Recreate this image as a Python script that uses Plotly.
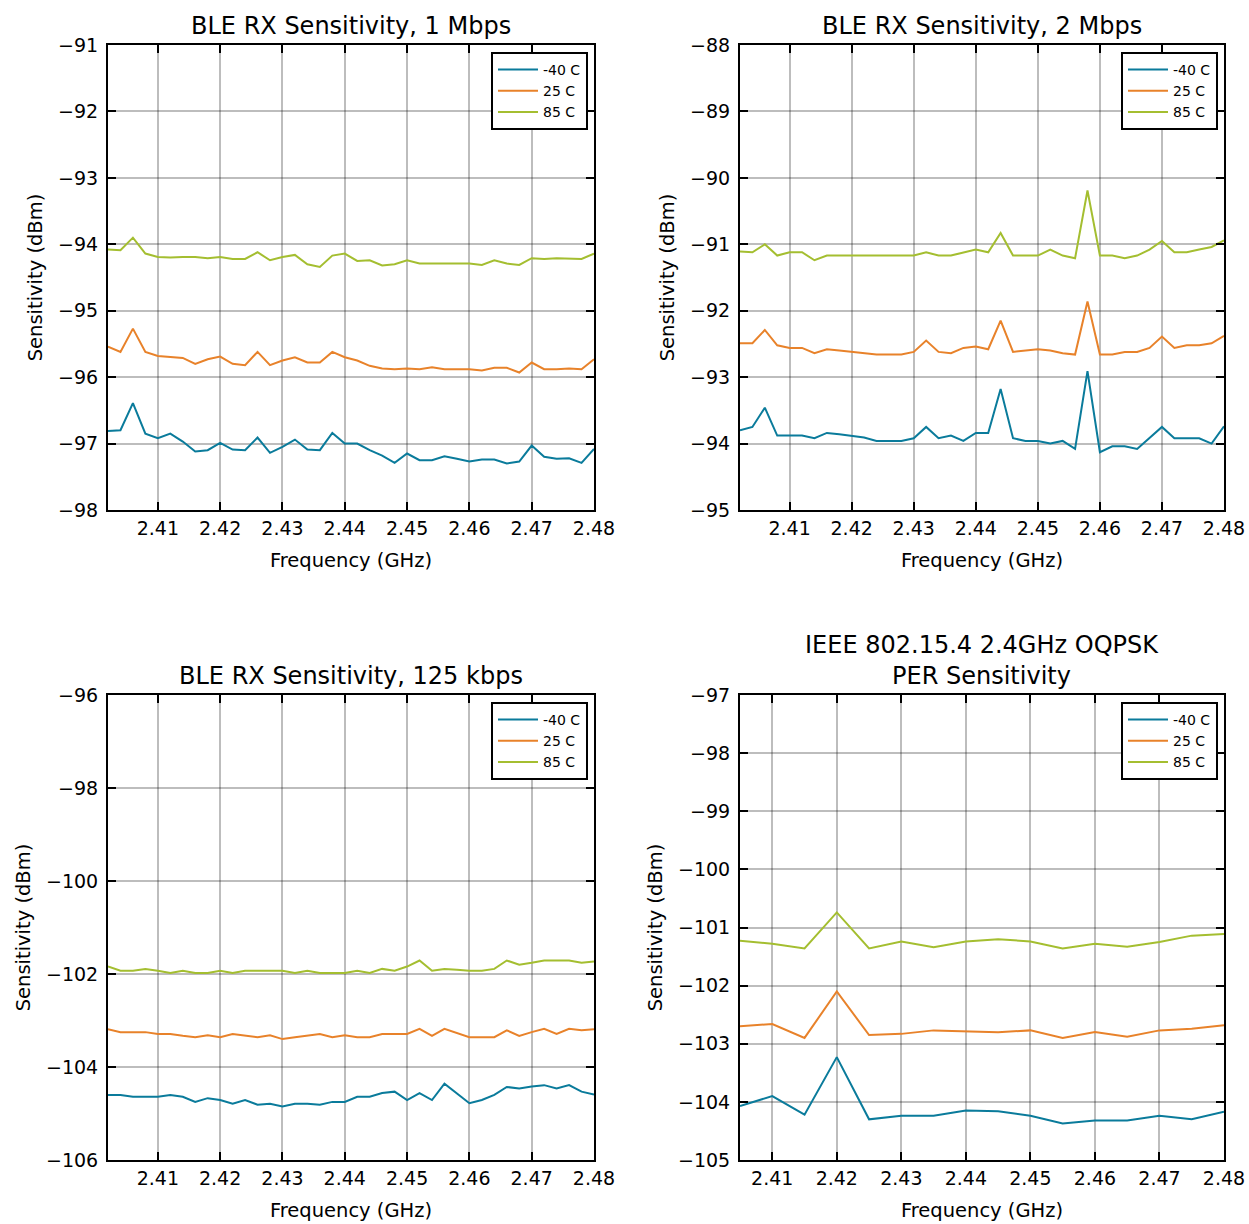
import numpy as np
import plotly.graph_objects as go

# ---------------- data ----------------
freq_ble = [round(2.402 + 0.002 * i, 3) for i in range(40)]
freq_154 = [round(2.405 + 0.005 * i, 3) for i in range(16)]

ble1m_m40 = [-96.81, -96.80, -96.39, -96.85, -96.92, -96.85, -96.97, -97.12, -97.10, -96.99,
             -97.09, -97.10, -96.91, -97.14, -97.05, -96.94, -97.09, -97.10, -96.84, -97.00,
             -97.00, -97.10, -97.18, -97.29, -97.15, -97.25, -97.25, -97.19, -97.23, -97.27,
             -97.24, -97.24, -97.30, -97.27, -97.03, -97.20, -97.23, -97.22, -97.29, -97.08]
ble1m_25 = [-95.54, -95.62, -95.27, -95.62, -95.68, -95.70, -95.71, -95.80, -95.73, -95.69,
            -95.80, -95.82, -95.62, -95.82, -95.75, -95.70, -95.78, -95.78, -95.62, -95.70,
            -95.75, -95.83, -95.87, -95.88, -95.87, -95.88, -95.85, -95.88, -95.88, -95.88,
            -95.90, -95.86, -95.86, -95.93, -95.78, -95.88, -95.88, -95.87, -95.88, -95.73]
ble1m_85 = [-94.08, -94.09, -93.90, -94.14, -94.19, -94.20, -94.19, -94.19, -94.21, -94.19,
            -94.22, -94.22, -94.12, -94.24, -94.19, -94.16, -94.30, -94.34, -94.17, -94.14,
            -94.25, -94.24, -94.32, -94.30, -94.24, -94.29, -94.29, -94.29, -94.29, -94.29,
            -94.31, -94.24, -94.29, -94.31, -94.21, -94.22, -94.21, -94.21, -94.22, -94.14]

ble2m_m40 = [-93.80, -93.75, -93.46, -93.88, -93.88, -93.88, -93.92, -93.84, -93.86, -93.89,
             -93.91, -93.96, -93.96, -93.96, -93.92, -93.75, -93.92, -93.88, -93.96, -93.84,
             -93.84, -93.18, -93.92, -93.96, -93.96, -94.00, -93.96, -94.08, -92.91, -94.13,
             -94.04, -94.04, -94.08, -93.92, -93.75, -93.92, -93.92, -93.92, -94.00, -93.74]
ble2m_25 = [-92.49, -92.49, -92.29, -92.52, -92.56, -92.56, -92.64, -92.58, -92.60, -92.62,
            -92.64, -92.66, -92.66, -92.66, -92.62, -92.45, -92.62, -92.64, -92.56, -92.54,
            -92.58, -92.15, -92.62, -92.60, -92.58, -92.60, -92.64, -92.66, -91.86, -92.66,
            -92.66, -92.62, -92.62, -92.56, -92.39, -92.56, -92.52, -92.52, -92.49, -92.38]
ble2m_85 = [-91.11, -91.12, -91.00, -91.17, -91.12, -91.12, -91.24, -91.17, -91.17, -91.17,
            -91.17, -91.17, -91.17, -91.17, -91.17, -91.12, -91.17, -91.17, -91.12, -91.08,
            -91.12, -90.83, -91.17, -91.17, -91.17, -91.08, -91.17, -91.21, -90.19, -91.17,
            -91.17, -91.21, -91.17, -91.08, -90.95, -91.12, -91.12, -91.08, -91.04, -90.94]

ble125k_m40 = [-104.60, -104.60, -104.64, -104.64, -104.64, -104.60, -104.64, -104.75, -104.67, -104.71,
               -104.79, -104.71, -104.81, -104.79, -104.85, -104.79, -104.79, -104.81, -104.75, -104.75,
               -104.64, -104.64, -104.56, -104.53, -104.71, -104.56, -104.71, -104.36, -104.56, -104.78,
               -104.71, -104.60, -104.43, -104.46, -104.42, -104.39, -104.46, -104.39, -104.53, -104.59]
ble125k_25 = [-103.19, -103.25, -103.25, -103.25, -103.29, -103.29, -103.33, -103.36, -103.32, -103.36,
              -103.29, -103.32, -103.36, -103.32, -103.40, -103.36, -103.32, -103.29, -103.36, -103.32,
              -103.36, -103.36, -103.29, -103.29, -103.29, -103.18, -103.33, -103.18, -103.27, -103.36,
              -103.36, -103.36, -103.21, -103.33, -103.25, -103.18, -103.29, -103.18, -103.21, -103.19]
ble125k_85 = [-101.84, -101.93, -101.93, -101.89, -101.93, -101.98, -101.93, -101.98, -101.98, -101.93,
              -101.98, -101.93, -101.93, -101.93, -101.93, -101.98, -101.93, -101.98, -101.98, -101.98,
              -101.93, -101.98, -101.89, -101.93, -101.84, -101.71, -101.93, -101.89, -101.91, -101.93,
              -101.93, -101.89, -101.71, -101.80, -101.76, -101.71, -101.71, -101.71, -101.76, -101.73]

ieee_m40 = [-104.07, -103.90, -104.22, -103.23, -104.30, -104.24, -104.24, -104.15,
            -104.16, -104.24, -104.37, -104.32, -104.32, -104.24, -104.30, -104.17]
ieee_25 = [-102.70, -102.66, -102.90, -102.10, -102.85, -102.83, -102.77, -102.78,
           -102.80, -102.77, -102.90, -102.80, -102.88, -102.77, -102.74, -102.68]
ieee_85 = [-101.23, -101.28, -101.36, -100.74, -101.36, -101.24, -101.34, -101.24,
           -101.20, -101.24, -101.36, -101.28, -101.33, -101.25, -101.14, -101.11]

series_names = ["-40 C", "25 C", "85 C"]
colors = ["#0A7B9B", "#E8822A", "#A4BE30"]

titles = ["BLE RX Sensitivity, 1 Mbps", "BLE RX Sensitivity, 2 Mbps",
          "BLE RX Sensitivity, 125 kbps", "IEEE 802.15.4 2.4GHz OQPSK<br>PER Sensitivity"]
xranges = [[2.402, 2.48], [2.402, 2.48], [2.402, 2.48], [2.405, 2.48]]
yranges = [[-98, -91], [-95, -88], [-106, -96], [-105, -97]]
ydticks = [1, 1, 2, 1]

panels = [
    (freq_ble, [ble1m_m40, ble1m_25, ble1m_85]),
    (freq_ble, [ble2m_m40, ble2m_25, ble2m_85]),
    (freq_ble, [ble125k_m40, ble125k_25, ble125k_85]),
    (freq_154, [ieee_m40, ieee_25, ieee_85]),
]

# ---------------- layout geometry ----------------
W, H = 1249, 1224
ML, MR, MT = 100, 25, 45
MB = H - 1160
PW, PH = W - ML - MR, H - MT - MB


def dx(px):
    return (px - ML) / PW


def dy(py):
    return (H - MB - py) / PH


xdoms = [[dx(108), dx(594)], [dx(740), dx(1224)], [dx(108), dx(594)], [dx(740), dx(1224)]]
ydoms = [[dy(510), dy(45)], [dy(510), dy(45)], [dy(1160), dy(695)], [dy(1160), dy(695)]]

FONT = "DejaVu Sans"
fig = go.Figure()

for k, (xs, ys_list) in enumerate(panels):
    sfx = "" if k == 0 else str(k + 1)
    for j, ys in enumerate(ys_list):
        fig.add_trace(go.Scatter(
            x=xs, y=ys, mode="lines", name=series_names[j],
            line=dict(color=colors[j], width=2),
            xaxis="x" + sfx, yaxis="y" + sfx,
            legend="legend" + sfx,
        ))

    axis_common = dict(
        showline=True, linecolor="black", linewidth=2, mirror="ticks",
        ticks="inside", ticklen=8, tickwidth=1.5, tickcolor="black",
        showgrid=True, gridcolor="rgba(0,0,0,0.26)", gridwidth=2,
        zeroline=False, tickfont=dict(family=FONT, size=19, color="black"),
        automargin=False,
    )
    fig.update_layout(**{
        "xaxis" + sfx: dict(
            axis_common, domain=xdoms[k], range=xranges[k], anchor="y" + sfx,
            tick0=2.41, dtick=0.01, tickformat=".2f",
            ticklabelstandoff=0,
            title=dict(text="Frequency (GHz)", font=dict(family=FONT, size=19.5, color="black"),
                       standoff=16),
        ),
        "yaxis" + sfx: dict(
            axis_common, domain=ydoms[k], range=yranges[k], anchor="x" + sfx,
            dtick=ydticks[k], tick0=0,
            ticklabelstandoff=4,
            title=dict(text="Sensitivity (dBm)", font=dict(family=FONT, size=19.5, color="black"),
                       standoff=10),
        ),
        "legend" + sfx: dict(
            x=xdoms[k][1] - 6 / PW, y=ydoms[k][1] - 7 / PH, xanchor="right", yanchor="top",
            xref="paper", yref="paper",
            bgcolor="white", bordercolor="black", borderwidth=2,
            font=dict(family=FONT, size=14, color="black"),
            tracegroupgap=0, itemwidth=40,
        ),
    })
    fig.add_annotation(
        text=titles[k], xref="paper", yref="paper",
        x=(xdoms[k][0] + xdoms[k][1]) / 2, y=ydoms[k][1],
        xanchor="center", yanchor="bottom", yshift=3, showarrow=False,
        font=dict(family=FONT, size=24, color="black"),
    )

fig.update_layout(
    width=W, height=H,
    margin=dict(l=ML, r=MR, t=MT, b=MB, autoexpand=False),
    paper_bgcolor="white", plot_bgcolor="white",
    font=dict(family=FONT, size=18, color="black"),
    showlegend=True,
)

fig.write_html(
    "out.html",
    config={"displayModeBar": False},
    post_script=("document.body.style.margin='0px';"
                 "document.documentElement.style.overflow='hidden';"
                 "document.body.style.overflow='hidden';"),
)
